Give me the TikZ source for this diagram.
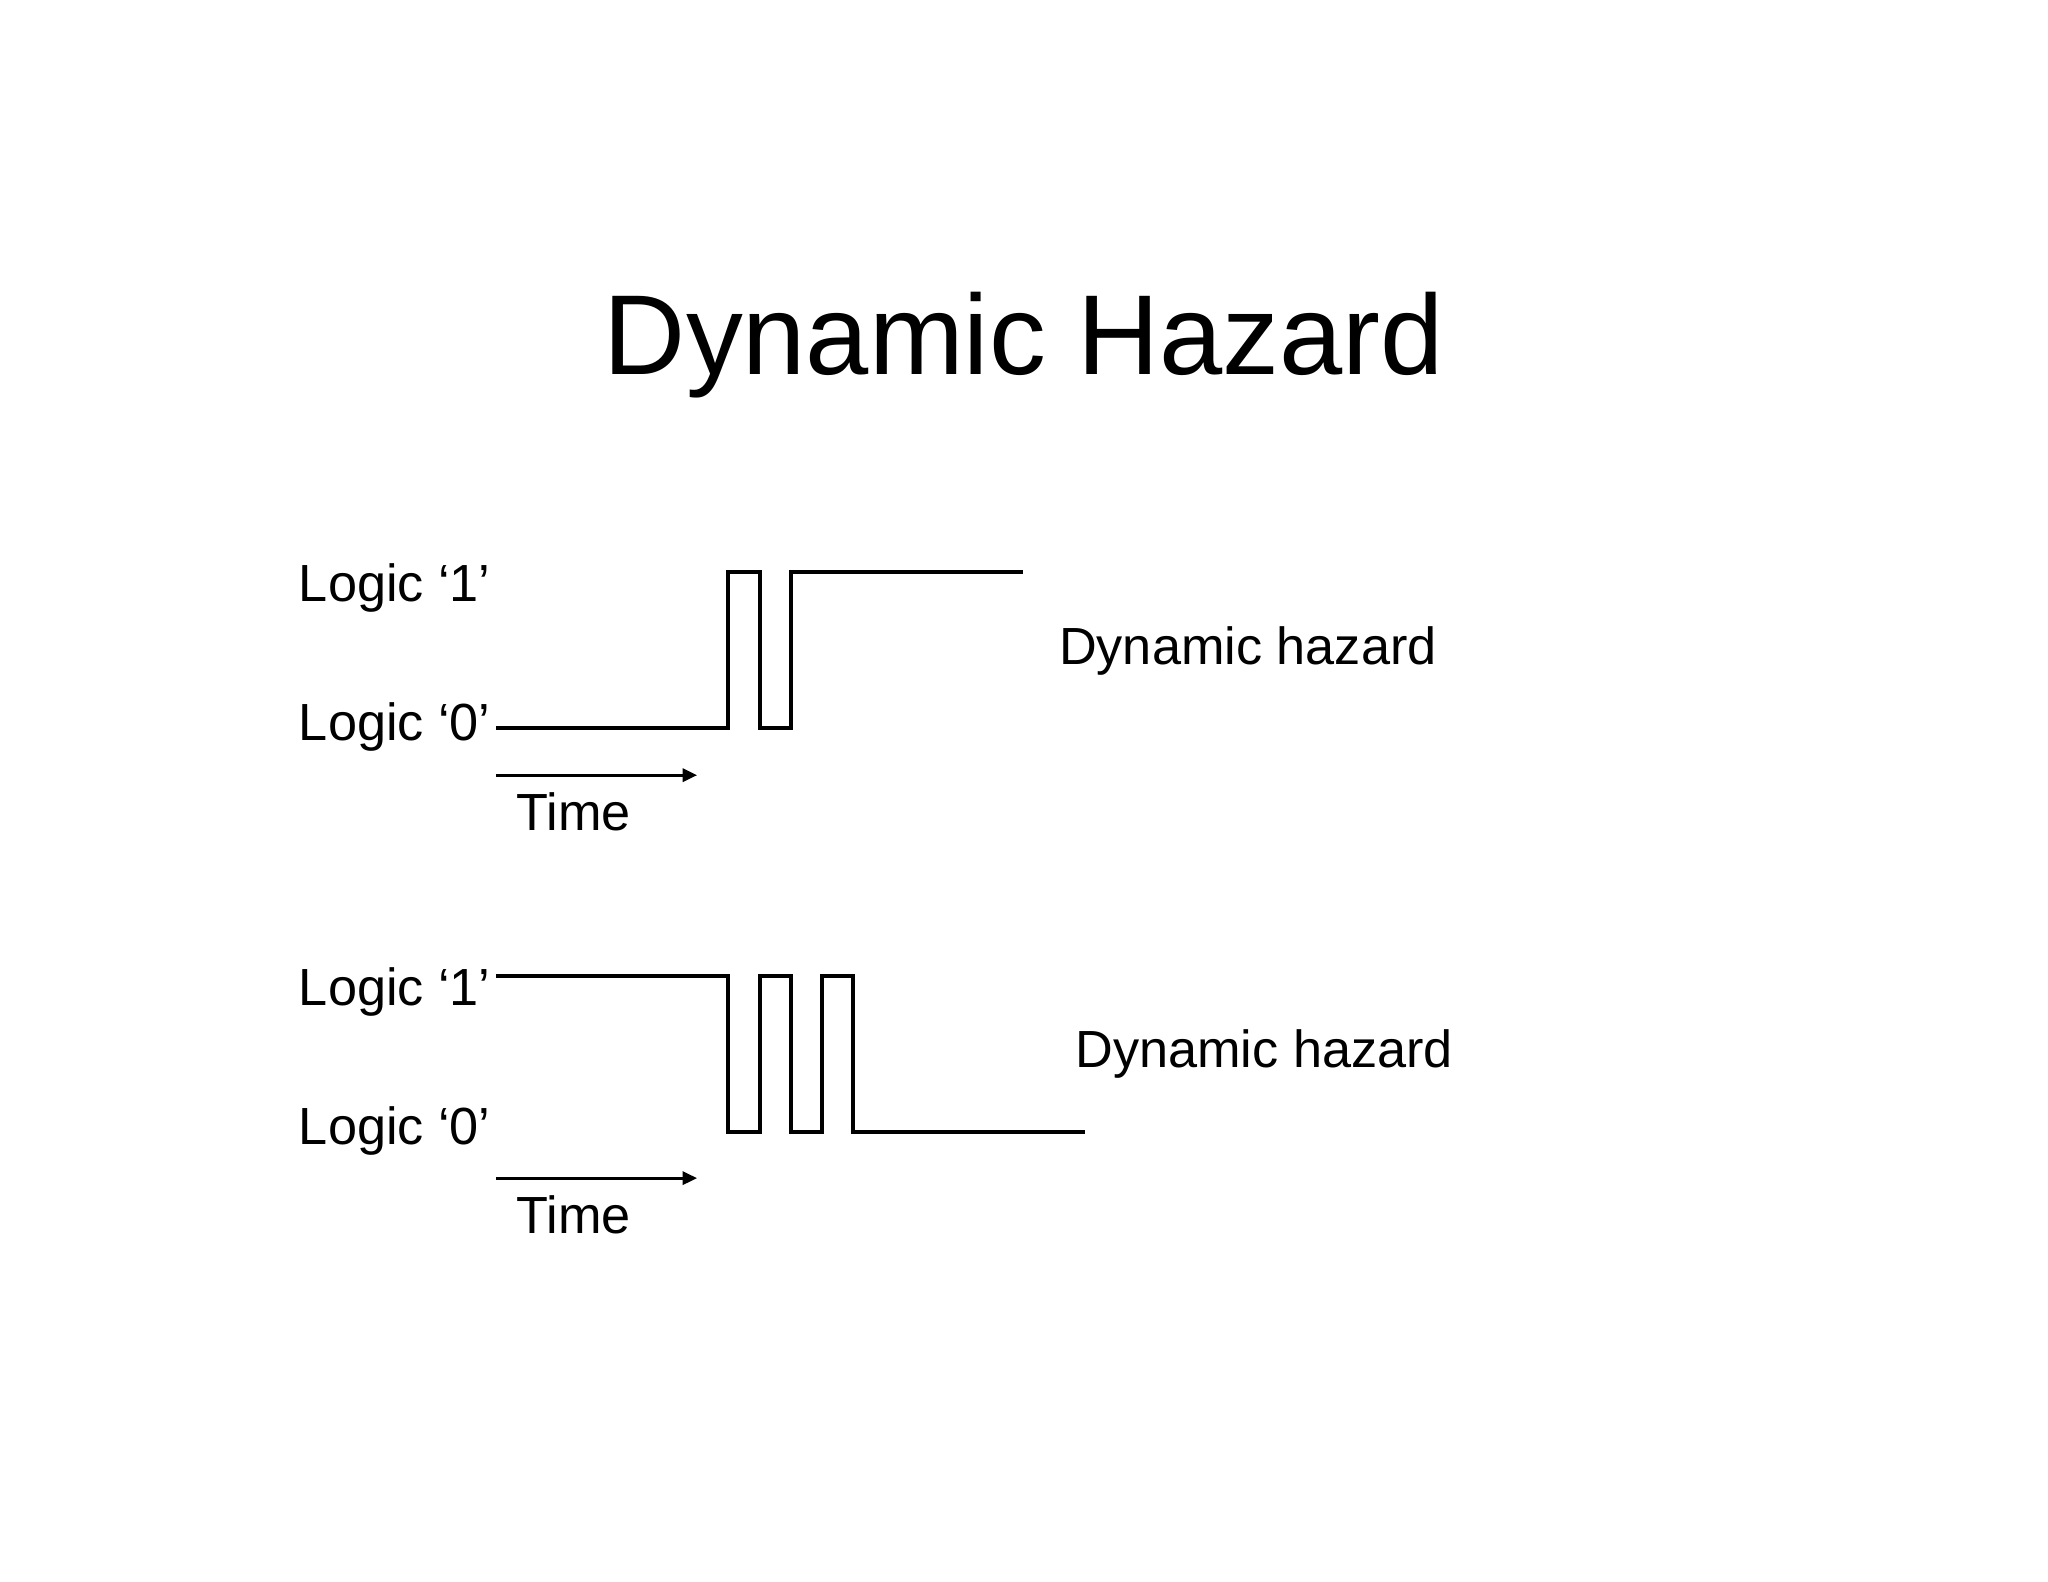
\documentclass[tikz,border=0pt]{standalone}
\usepackage{fontspec}
\setmainfont{Liberation Sans}
\usetikzlibrary{arrows.meta}

\tikzset{
  wave/.style={line width=1.7pt},
  timearrow/.style={line width=1.1pt,-{Triangle[length=5.5pt,width=5pt]}},
  lbl/.style={anchor=base west,inner sep=0pt,font=\fontsize{20}{24}\selectfont},
}

\begin{document}
\begin{tikzpicture}[x=0.5pt,y=-0.5pt]
  \useasboundingbox (0,0) rectangle (1568,1211);
  \node[anchor=base west,inner sep=0pt,font=\fontsize{43.5}{52}\selectfont] (title) at (462,287) {Dynamic Hazard};
  % 0 -> 1 with one glitch
  \node[lbl] (hiA) at (228.5,460.7) {Logic `1'};
  \node[lbl] (loA) at (228.5,567) {Logic `0'};
  \draw[wave] (380,557.5) -- (557.5,557.5) -- (557.5,438) -- (582,438) -- (582,557.5)
    -- (605.5,557.5) -- (605.5,438) -- (783,438);
  \coordinate (tsA) at (380,593.5);
  \coordinate (teA) at (533.7,593.5);
  \draw[timearrow] (tsA) -- (teA);
  \node[lbl] (timeA) at (395,635.5) {Time};
  \node[lbl] (hazA) at (810.5,508.6) {Dynamic hazard};
  % 1 -> 0 with two glitches
  \node[lbl] (hiB) at (228.5,769.5) {Logic `1'};
  \node[lbl] (loB) at (228.5,876) {Logic `0'};
  \draw[wave] (380,747.3) -- (557.5,747.3) -- (557.5,866.7) -- (582,866.7) -- (582,747.3)
    -- (605.5,747.3) -- (605.5,866.7) -- (629.4,866.7) -- (629.4,747.3) -- (653,747.3)
    -- (653,866.7) -- (830.8,866.7);
  \coordinate (tsB) at (380,902);
  \coordinate (teB) at (533.7,902);
  \draw[timearrow] (tsB) -- (teB);
  \node[lbl] (timeB) at (395,944) {Time};
  \node[lbl] (hazB) at (823,817) {Dynamic hazard};
\end{tikzpicture}
\end{document}
